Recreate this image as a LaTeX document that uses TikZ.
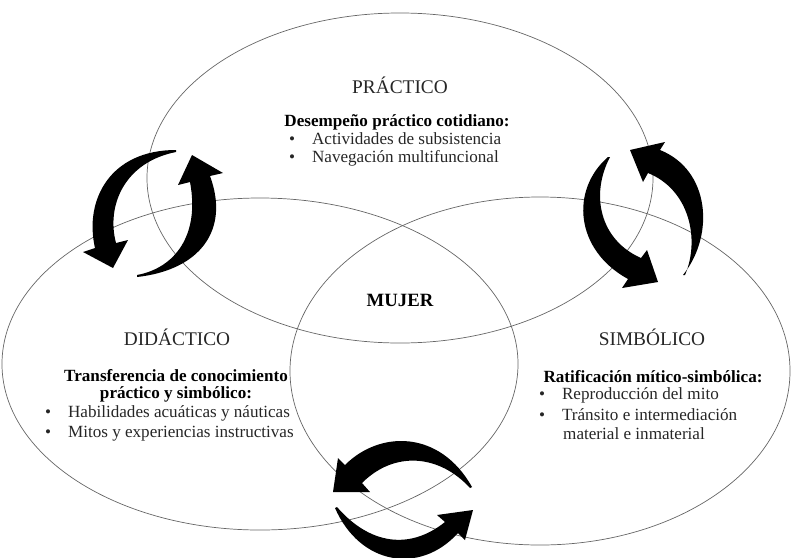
\documentclass[tikz,border=0pt]{standalone}
\usepackage{fontspec}
\setmainfont{Liberation Serif}
\usetikzlibrary{positioning,shapes.geometric}

\newcommand{\vineta}{\makebox[19.5pt][l]{\textbullet}}

\begin{document}
\begin{tikzpicture}[x=0.03cm,y=-0.03cm,
  area/.style={draw=black!60, line width=0.6pt, ellipse, inner sep=0pt},
  titulo/.style={font=\fontsize{16.5}{17}\selectfont, text=black!85},
  lema/.style={font=\fontsize{14.6}{14.6}\selectfont\bfseries, align=center},
  punto/.style={font=\fontsize{14.6}{14.6}\selectfont, anchor=mid west, inner sep=0pt, text=black!85},
  flecha/.style={fill=black}]
  \useasboundingbox (0,0) rectangle (793,557);
  % the three areas
  \node[area, minimum width=15.18cm, minimum height=9.9cm] (practico) at (400,178) {};
  \node[area, minimum width=15.48cm, minimum height=9.96cm] (didactico) at (260,364) {};
  \node[area, minimum width=15cm, minimum height=10.44cm] (simbolico) at (540,371) {};
  \node[lema, font=\fontsize{16}{16}\selectfont\bfseries] (mujer) at (400,300) {MUJER};
  % practico
  \node[titulo] (tp) at (400,85) {PRÁCTICO};
  \node[lema] (lp) at (397,122) {Desempeño práctico cotidiano:};
  \node[punto] (p1) at (289,142) {\vineta Actividades de subsistencia};
  \node[punto] (p2) at (289,160) {\vineta Navegación multifuncional};
  % didactico
  \node[titulo] (td) at (177,337) {DIDÁCTICO};
  \node[lema] (ld) at (176,386) {Transferencia de conocimiento\\práctico y simbólico:};
  \node[punto] (d1) at (45,415) {\vineta Habilidades acuáticas y náuticas};
  \node[punto] (d2) at (45,435) {\vineta Mitos y experiencias instructivas};
  % simbolico
  \node[titulo] (ts) at (652,337) {SIMBÓLICO};
  \node[lema] (ls) at (653,377) {Ratificación mítico-simbólica:};
  \node[punto] (s1) at (539,397) {\vineta Reproducción del mito};
  \node[punto] (s2) at (539,418) {\vineta Tránsito e intermediación};
  \node[punto] (s3) at (563,437) {material e inmaterial};
  % arrows between practico and didactico
  \fill[flecha] (176,150) .. controls (110,150) and (84,200) .. (95,248) -- (83,252) -- (113,268)
    -- (128,240) -- (116,243) .. controls (106,205) and (125,162) .. (176,152) -- cycle;
  \fill[flecha] (137,277) .. controls (200,270) and (230,230) .. (210,176) -- (223,173) -- (192,155)
    -- (178,185) -- (190,182) .. controls (200,235) and (175,268) .. (137,275) -- cycle;
  % arrows between practico and simbolico
  \fill[flecha] (608,157) .. controls (570,190) and (575,250) .. (628,279) -- (622,288) -- (658,282)
    -- (647,250) -- (641,258) .. controls (600,240) and (590,195) .. (610,157) -- cycle;
  \fill[flecha] (683,275) .. controls (715,235) and (710,170) .. (660,150) -- (665,142) -- (630,150)
    -- (643,182) -- (648,173) .. controls (690,190) and (700,240) .. (685,275) -- cycle;
  % arrows between didactico and simbolico
  \fill[flecha] (472,487) .. controls (440,430) and (380,430) .. (345,465) -- (338,458) -- (333,492)
    -- (370,492) -- (362,483) .. controls (395,450) and (440,455) .. (470,488) -- cycle;
  \fill[flecha] (335,508) .. controls (360,565) and (420,575) .. (458,533) -- (465,540) -- (473,510)
    -- (437,515) -- (445,522) .. controls (410,550) and (370,545) .. (337,507) -- cycle;
\end{tikzpicture}
\end{document}
